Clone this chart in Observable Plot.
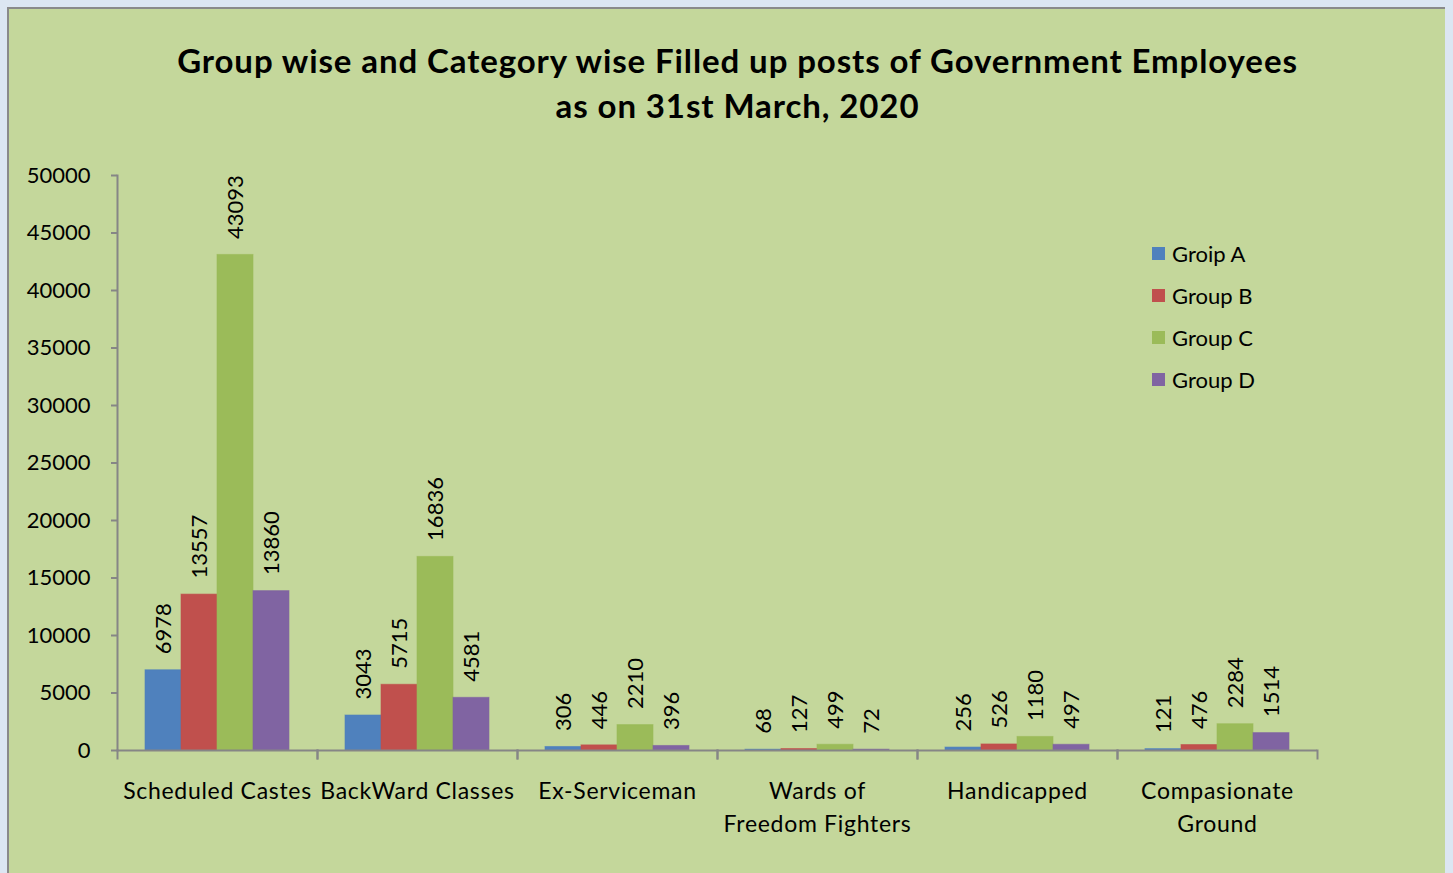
<!DOCTYPE html>
<html>
<head>
<meta charset="utf-8">
<script src="https://cdn.jsdelivr.net/npm/d3@7"></script>
<script src="https://cdn.jsdelivr.net/npm/@observablehq/plot@0.6"></script>
<style>
  html, body { margin: 0; padding: 0; }
  body { width: 1453px; height: 873px; background: #dce6f2; position: relative; overflow: hidden; font-family: Lato, "Open Sans", sans-serif; }
  #bg { position: absolute; left: 7px; top: 7px; width: 1436px; height: 900px; background: #c4d79b; border-left: 2px solid #8a8a8a; border-top: 2px solid #8a8a8a; }
  #title { position: absolute; left: 0; top: 38px; width: 1475px; text-align: center; font-weight: bold; font-size: 33px; letter-spacing: 0.9px; line-height: 45px; color: #000; }
  #plot { position: absolute; left: 0; top: 150px; }
  #plot g[aria-label="fx-axis tick label"] text { letter-spacing: 0.7px; }
  #legend { position: absolute; left: 1152px; top: 232px; font-size: 22px; color: #000; }
  #legend .row { height: 42px; display: flex; align-items: center; }
  #legend .sw { width: 13px; height: 13px; margin-right: 7px; }
</style>
</head>
<body>
<div id="bg"></div>
<div id="title">Group wise and Category wise Filled up posts of Government Employees<br>as on 31st March, 2020</div>
<div id="plot"></div>
<div id="legend"></div>
<script>
const categories = ["Scheduled Castes", "BackWard Classes", "Ex-Serviceman", "Wards of\nFreedom Fighters", "Handicapped", "Compasionate\nGround"];
const groups = ["Groip A", "Group B", "Group C", "Group D"];
const groupA = [6978, 3043, 306, 68, 256, 121];
const groupB = [13557, 5715, 446, 127, 526, 476];
const groupC = [43093, 16836, 2210, 499, 1180, 2284];
const groupD = [13860, 4581, 396, 72, 497, 1514];
const yTicks = [0, 5000, 10000, 15000, 20000, 25000, 30000, 35000, 40000, 45000, 50000];
const colors = ["#4f81bd", "#c0504d", "#9bbb59", "#8064a2"];

const series = [groupA, groupB, groupC, groupD];
const rows = [];
categories.forEach((c, i) => {
  groups.forEach((g, j) => rows.push({category: c, group: g, value: series[j][i]}));
});

const axisColor = "#868686";
const chart = Plot.plot({
  width: 1453,
  height: 723,
  marginLeft: 117,
  marginRight: 136,
  marginTop: 25,
  marginBottom: 123,
  style: {background: "transparent", fontFamily: "Lato, 'Open Sans', sans-serif", fontSize: "22px", color: "#000", overflow: "visible"},
  fx: {domain: categories, padding: 0, label: null, axis: null},
  x: {domain: groups, paddingInner: 0, paddingOuter: 0.74, axis: null},
  y: {domain: [0, 50000], axis: null},
  color: {domain: groups, range: colors},
  marks: [
    Plot.barY(rows, {fx: "category", x: "group", y: "value", fill: "group", stroke: "group", strokeOpacity: 0.6, strokeWidth: 1}),
    Plot.ruleY([0], {stroke: axisColor, strokeWidth: 2}),
    Plot.frame({anchor: "left", facetAnchor: "left", stroke: axisColor, strokeWidth: 2}),
    Plot.frame({anchor: "left", stroke: axisColor, strokeWidth: 2, insetTop: 575, insetBottom: -8}),
    Plot.frame({anchor: "right", stroke: axisColor, strokeWidth: 2, insetTop: 575, insetBottom: -8}),
    Plot.axisY({ticks: yTicks, tickSize: 6, tickPadding: 21, stroke: axisColor, strokeWidth: 2, tickFormat: d => String(d), fontSize: 22, fill: "#000", label: null}),
    Plot.axisFx({anchor: "bottom", tickSize: 0, tickPadding: 25, label: null, lineHeight: 33 / 23, fontSize: 23, fill: "#000"}),
    Plot.text(rows, {fx: "category", x: "group", y: "value", text: d => String(d.value), rotate: -90, textAnchor: "start", lineAnchor: "middle", dy: -16, fontSize: 22, fill: "#000"})
  ]
});
document.getElementById("plot").appendChild(chart);

const legend = document.getElementById("legend");
groups.forEach((g, j) => {
  const row = document.createElement("div");
  row.className = "row";
  const sw = document.createElement("div");
  sw.className = "sw";
  sw.style.background = colors[j];
  const t = document.createElement("span");
  t.textContent = g;
  row.appendChild(sw);
  row.appendChild(t);
  legend.appendChild(row);
});
</script>
</body>
</html>
